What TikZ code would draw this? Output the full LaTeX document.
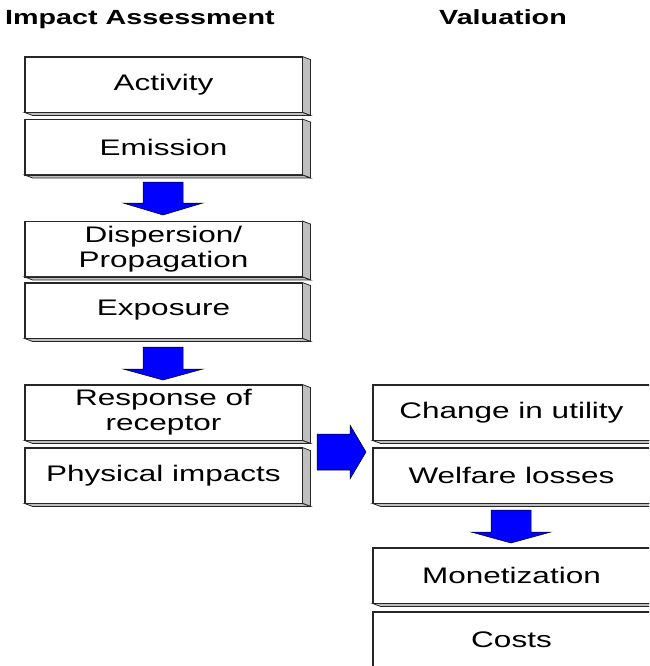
\documentclass[tikz,border=0pt]{standalone}
\usepackage{fontspec}
\setmainfont[FakeStretch=1.4]{Liberation Sans}
\begin{document}
\begin{tikzpicture}[x=1pt,y=-1pt,
  stage/.style={draw=black!85, line width=0.9pt, fill=white, minimum width=277pt,
    minimum height=55pt, inner sep=0pt, align=center,
    font=\fontsize{22.5}{25}\selectfont},
  sidefill/.style={fill=black!25, draw=black!85, line width=0.8pt},
  blockarrow/.style={fill=blue, draw=black, line width=0.5pt},
  heading/.style={font=\bfseries\fontsize{20.5}{24}\selectfont, anchor=base, inner sep=0pt}]
\useasboundingbox (0,0) rectangle (649,666);
\clip (0,0) rectangle (649,666);

% headings
\node[heading] (t1) at (140,25) {Impact Assessment};
\node[heading] (t2) at (503,25) {Valuation};

% 3D box macro via nodes
\def\threedbox#1#2#3#4{%
  \node[stage] (#1) at (#2,#3) {#4};
  \path[sidefill] (#1.north east) -- ++(8,3) -- ([shift={(8,3)}]#1.south east) -- (#1.south east) -- cycle;
  \path[sidefill] (#1.south west) -- ++(8,3) -- ([shift={(8,3)}]#1.south east) -- (#1.south east) -- cycle;
  \draw[draw=black!85, line width=0.9pt] (#1.north west) rectangle (#1.south east);
}

\threedbox{act}{163.5}{84.5}{Activity}
\threedbox{emi}{163.5}{147}{Emission}
\threedbox{dis}{163.5}{249}{Dispersion/\\Propagation}
\threedbox{exp}{163.5}{310.5}{Exposure}
\threedbox{res}{163.5}{412.5}{Response of\\receptor}
\threedbox{phy}{163.5}{475.5}{Physical impacts}

\threedbox{chg}{511.5}{412.5}{Change in utility}
\threedbox{wel}{511.5}{475.5}{Welfare losses}
\threedbox{mon}{511.5}{575.5}{Monetization}
\threedbox{cos}{511.5}{639.5}{Costs}

% down arrows
\def\downarrow#1#2#3{%
  \path[blockarrow] (#1-20,#2) -- (#1+20,#2) -- (#1+20,#2+21) -- (#1+40,#2+21)
    -- (#1,#2+33) -- (#1-40,#2+21) -- (#1-20,#2+21) -- cycle;}
\coordinate (a1) at (163,182);
\path[blockarrow] ([shift={(-20,0)}]a1) -- ++(40,0) -- ++(0,21) -- ++(20,0)
  -- ([shift={(0,33)}]a1) -- ([shift={(-40,21)}]a1) -- ++(20,0) -- cycle;
\coordinate (a2) at (163,347);
\path[blockarrow] ([shift={(-20,0)}]a2) -- ++(40,0) -- ++(0,22) -- ++(20,0)
  -- ([shift={(0,33)}]a2) -- ([shift={(-40,22)}]a2) -- ++(20,0) -- cycle;
\coordinate (a3) at (511,510);
\path[blockarrow] ([shift={(-20,0)}]a3) -- ++(40,0) -- ++(0,22) -- ++(20,0)
  -- ([shift={(0,33)}]a3) -- ([shift={(-40,22)}]a3) -- ++(20,0) -- cycle;

% right arrow
\coordinate (a4) at (317,452);
\path[blockarrow] ([shift={(0,-18)}]a4) -- ++(33,0) -- ++(0,-9) -- ([shift={(49,0)}]a4)
  -- ([shift={(33,27)}]a4) -- ++(0,-9) -- ([shift={(0,18)}]a4) -- cycle;
\end{tikzpicture}
\end{document}
